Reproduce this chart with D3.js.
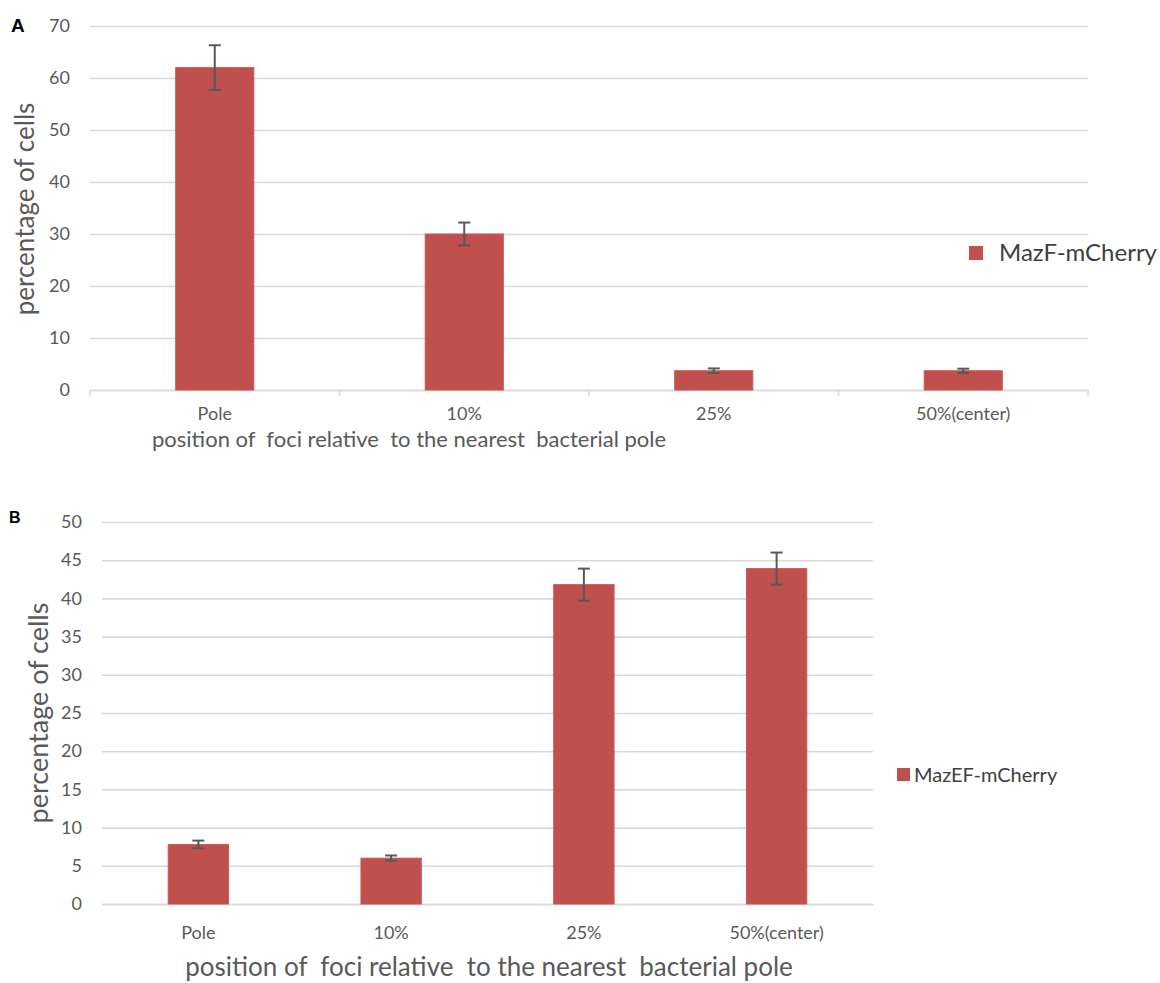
<!DOCTYPE html>
<html>
<head>
<meta charset="utf-8">
<script src="https://cdn.jsdelivr.net/npm/d3@7"></script>
<style>
  html, body { margin: 0; padding: 0; background: #ffffff; }
  svg { display: block; font-family: Lato, "Open Sans", sans-serif; }
  text { white-space: pre; }
</style>
</head>
<body>
<svg id="chart" width="1160" height="983"></svg>
<script>
// Foci position categories shared by both panels
const categories = ["Pole", "10%", "25%", "50%(center)"];

// Panel A: MazF-mCherry
const mazFValues = [62, 30, 3.7, 3.7];
const mazFErrors = [4.3, 2.2, 0.45, 0.4];
const yTicksA = [0, 10, 20, 30, 40, 50, 60, 70];

// Panel B: MazEF-mCherry
const mazEFValues = [7.8, 6.0, 41.8, 43.9];
const mazEFErrors = [0.5, 0.35, 2.1, 2.1];
const yTicksB = [0, 5, 10, 15, 20, 25, 30, 35, 40, 45, 50];

const xTitle = "position of  foci relative  to the nearest  bacterial pole";
const yTitle = "percentage of cells";

const BAR = "#c0504d";
const GRID = "#d9d9d9";
const TICK_TEXT = "#595959";
const ERR = "#595959";

const svg = d3.select("#chart");

function panel(cfg) {
  const g = svg.append("g");
  const gap = 0.687;
  const x = d3.scaleBand().domain(categories)
    .range([cfg.left, cfg.right]).paddingInner(gap).paddingOuter(gap / 2);
  const y = d3.scaleLinear().domain([0, d3.max(cfg.ticks)]).range([cfg.bottom, cfg.top]);

  // gridlines
  g.append("g")
    .attr("transform", `translate(${cfg.left},0)`)
    .call(d3.axisLeft(y).tickValues(cfg.ticks).tickSize(-(cfg.right - cfg.left)).tickFormat(""))
    .call(s => s.select(".domain").remove())
    .call(s => s.selectAll("line").attr("stroke", GRID).attr("stroke-width", 1.6));

  // y tick labels
  g.append("g")
    .attr("transform", `translate(${cfg.labelX},0)`)
    .call(d3.axisLeft(y).tickValues(cfg.ticks).tickSize(0).tickPadding(0))
    .call(s => s.select(".domain").remove())
    .call(s => s.selectAll("text")
      .attr("fill", TICK_TEXT).style("font-size", cfg.tickFont + "px")
      .style("font-family", "Lato, sans-serif"));

  // category axis
  const xa = g.append("g")
    .attr("transform", `translate(0,${cfg.bottom})`)
    .call(d3.axisBottom(x).tickSize(0).tickPadding(cfg.catPad));
  xa.select(".domain").attr("stroke", GRID).attr("stroke-width", 1.6);
  xa.selectAll("text").attr("fill", TICK_TEXT).style("font-size", cfg.tickFont + "px")
    .style("font-family", "Lato, sans-serif");

  if (cfg.catTicks) {
    const step = x.step();
    const bounds = d3.range(categories.length + 1).map(i => cfg.left + i * step);
    g.selectAll(".cat-tick").data(bounds).join("line")
      .attr("x1", d => d).attr("x2", d => d)
      .attr("y1", cfg.bottom).attr("y2", cfg.bottom + 6)
      .attr("stroke", GRID).attr("stroke-width", 1.6);
  }

  // bars
  g.selectAll(".bar").data(cfg.values).join("rect")
    .attr("x", (d, i) => x(categories[i]))
    .attr("y", d => y(d))
    .attr("width", x.bandwidth())
    .attr("height", d => y(0) - y(d))
    .attr("fill", BAR)
    .attr("stroke", "#cc5552").attr("stroke-width", 1);

  // error bars
  const cap = 6;
  const eb = g.selectAll(".err").data(cfg.values.map((v, i) => ({ v, e: cfg.errors[i], c: categories[i] })))
    .join("g").attr("stroke", ERR).attr("stroke-width", 2);
  eb.append("line")
    .attr("x1", d => x(d.c) + x.bandwidth() / 2).attr("x2", d => x(d.c) + x.bandwidth() / 2)
    .attr("y1", d => y(d.v + d.e)).attr("y2", d => y(d.v - d.e));
  eb.append("line")
    .attr("x1", d => x(d.c) + x.bandwidth() / 2 - cap).attr("x2", d => x(d.c) + x.bandwidth() / 2 + cap)
    .attr("y1", d => y(d.v + d.e)).attr("y2", d => y(d.v + d.e));
  eb.append("line")
    .attr("x1", d => x(d.c) + x.bandwidth() / 2 - cap).attr("x2", d => x(d.c) + x.bandwidth() / 2 + cap)
    .attr("y1", d => y(d.v - d.e)).attr("y2", d => y(d.v - d.e));

  // axis titles
  g.append("text")
    .attr("x", cfg.xTitleX).attr("y", cfg.xTitleY)
    .attr("text-anchor", cfg.xTitleAnchor)
    .attr("fill", TICK_TEXT).style("font-size", cfg.xTitleFont + "px")
    .text(xTitle);
  g.append("text")
    .attr("transform", `translate(${cfg.yTitleX},${cfg.yTitleY}) rotate(-90)`)
    .attr("text-anchor", "middle")
    .attr("fill", TICK_TEXT).style("font-size", cfg.yTitleFont + "px")
    .text(yTitle);

  // legend
  g.append("rect")
    .attr("x", cfg.legend.x).attr("y", cfg.legend.y)
    .attr("width", cfg.legend.size).attr("height", cfg.legend.size)
    .attr("fill", BAR);
  g.append("text")
    .attr("x", cfg.legend.x + cfg.legend.size + cfg.legend.gap)
    .attr("y", cfg.legend.y + cfg.legend.size / 2)
    .attr("dy", "0.35em")
    .attr("fill", "#404040").style("font-size", cfg.legend.font + "px")
    .text(cfg.legend.label);

  // panel letter
  g.append("text")
    .attr("x", cfg.letter.x).attr("y", cfg.letter.y)
    .attr("fill", "#000").style("font-weight", "bold")
    .style("font-family", "Liberation Sans, Arial, sans-serif")
    .style("font-size", cfg.letter.font + "px")
    .text(cfg.letter.text);
}

panel({
  values: mazFValues, errors: mazFErrors, ticks: yTicksA,
  left: 90, right: 1088, top: 26, bottom: 390,
  labelX: 70, tickFont: 18, catPad: 17, catTicks: true,
  xTitleFont: 22, xTitleX: 152, xTitleY: 447, xTitleAnchor: "start",
  yTitleFont: 26, yTitleX: 34, yTitleY: 209,
  legend: { x: 969, y: 246, size: 14, gap: 16, font: 24, label: "MazF-mCherry" },
  letter: { x: 11, y: 32, font: 19, text: "A" }
});

panel({
  values: mazEFValues, errors: mazEFErrors, ticks: yTicksB,
  left: 102, right: 873, top: 522, bottom: 904,
  labelX: 82, tickFont: 18, catPad: 22, catTicks: false,
  xTitleFont: 26, xTitleX: 489, xTitleY: 976, xTitleAnchor: "middle",
  yTitleFont: 27, yTitleX: 48, yTitleY: 713,
  legend: { x: 897, y: 768, size: 13, gap: 4, font: 20, label: "MazEF-mCherry" },
  letter: { x: 9, y: 523, font: 16, text: "B" }
});
</script>
</body>
</html>
